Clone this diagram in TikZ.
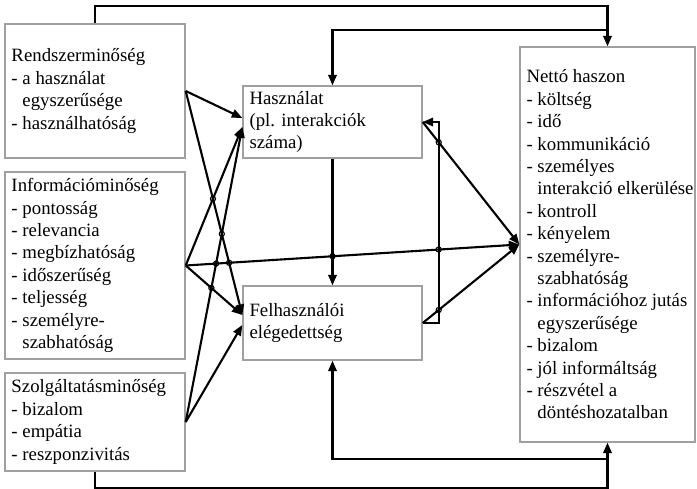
\documentclass[tikz,border=0pt]{standalone}
\usepackage{fontspec}
\setmainfont{Liberation Serif}
\usetikzlibrary{arrows.meta,intersections}
\definecolor{boxgray}{RGB}{160,160,160}
\begin{document}
\begin{tikzpicture}[x=1pt,y=-1pt,
  box/.style={draw=boxgray, line width=1.4pt, fill=white, inner sep=0pt},
  txt/.style={anchor=west, xshift=7pt, align=left, inner sep=0pt,
    font=\fontsize{18.8}{22.4}\selectfont},
  conn/.style={draw=black, line width=2.1pt, -{Triangle[length=10.5pt,width=8.5pt]}},
  hop/.style={draw=black, line width=1.1pt}]

\useasboundingbox (0,0) rectangle (697,489);

% --- boxes ---
\node[box, minimum width=180, minimum height=134] (rq)  at (95,91) {};
\node[box, minimum width=180, minimum height=187] (iq)  at (95,265.5) {};
\node[box, minimum width=180, minimum height=98]  (sq)  at (95,422) {};
\node[box, minimum width=179, minimum height=72]  (use) at (332.5,122) {};
\node[box, minimum width=179, minimum height=74]  (sat) at (332.5,323) {};
\node[box, minimum width=175, minimum height=395] (nb)  at (607.5,244.5) {};

% --- texts ---
\node[txt] (rqt) at (rq.west) {Rendszerminőség\\- a használat\\\hphantom{- }egyszerűsége\\- használhatóság};
\node[txt] (iqt) at (iq.west) {Információminőség\\- pontosság\\- relevancia\\- megbízhatóság\\- időszerűség\\- teljesség\\- személyre-\\\hphantom{- }szabhatóság};
\node[txt] (sqt) at (sq.west) {Szolgáltatásminőség\\- bizalom\\- empátia\\- reszponzivitás};
\node[txt] (uset) at (use.west) {Használat\\(pl. interakciók\\száma)};
\node[txt] (satt) at (sat.west) {Felhasználói\\elégedettség};
\node[txt] (nbt) at (nb.west) {Nettó haszon\\- költség\\- idő\\- kommunikáció\\- személyes\\\hphantom{- }interakció elkerülése\\- kontroll\\- kényelem\\- személyre-\\\hphantom{- }szabhatóság\\- információhoz jutás\\\hphantom{- }egyszerűsége\\- bizalom\\- jól informáltság\\- részvétel a\\\hphantom{- }döntéshozatalban};

% --- ports ---
\coordinate (u1) at ([yshift=4pt]use.west);
\coordinate (u2) at ([yshift=-5pt]use.west);
\coordinate (s1) at ([yshift=8pt]sat.west);
\coordinate (s2) at ([yshift=-2pt]sat.west);
\coordinate (fbtop) at (608,30);
\coordinate (fbbot) at (608,459);

% --- quality dimensions to use and satisfaction ---
\draw[conn, name path=RU] (rq.east) -- (u1);
\draw[conn, name path=RF] (rq.east) -- (s1);
\draw[conn, name path=IU] (iq.east) -- (u2);
\draw[conn, name path=IF] (iq.east) -- (s1);
\draw[conn, name path=IN] (iq.east) -- (nb.west);
\draw[conn, name path=SU] (sq.east) -- (u2);
\draw[conn, name path=SF] (sq.east) -- (s2);

% --- use, satisfaction and net benefits ---
\draw[conn, name path=mid] (use.south) -- (sat.north);
\draw[conn] (sat.east) -- ++(16,0) |- (use.east);
\path[name path=loopv] ([xshift=16pt]use.east) -- ([xshift=16pt]sat.east);
\draw[conn, name path=UN] (use.east) -- (nb.west);
\draw[conn, name path=FN] (sat.east) -- (nb.west);

% --- outer links and feedback ---
\draw[conn] (rq.north) -- ++(0,-17) -| (nb.north);
\draw[conn] (fbtop) -| (use.north);
\draw[conn] (sq.south) -- ++(0,16.5) -| (nb.south);
\draw[conn] (fbbot) -| (sat.south);

% --- line hops at crossings ---
\path[name intersections={of=RF and IU, by=h1}];
\path[name intersections={of=RF and SU, by=h2}];
\path[name intersections={of=IN and SU, by=h3}];
\path[name intersections={of=IN and RF, by=h4}];
\path[name intersections={of=IF and SU, by=h5}];
\path[name intersections={of=IN and mid, by=h6}];
\path[name intersections={of=IN and loopv, by=h7}];
\path[name intersections={of=UN and loopv, by=h8}];
\path[name intersections={of=FN and loopv, by=h9}];
\foreach \h in {h1,h2,h3,h4,h5,h6,h7,h8,h9}
  \draw[hop] (\h) circle[radius=2.6pt];
\end{tikzpicture}
\end{document}
